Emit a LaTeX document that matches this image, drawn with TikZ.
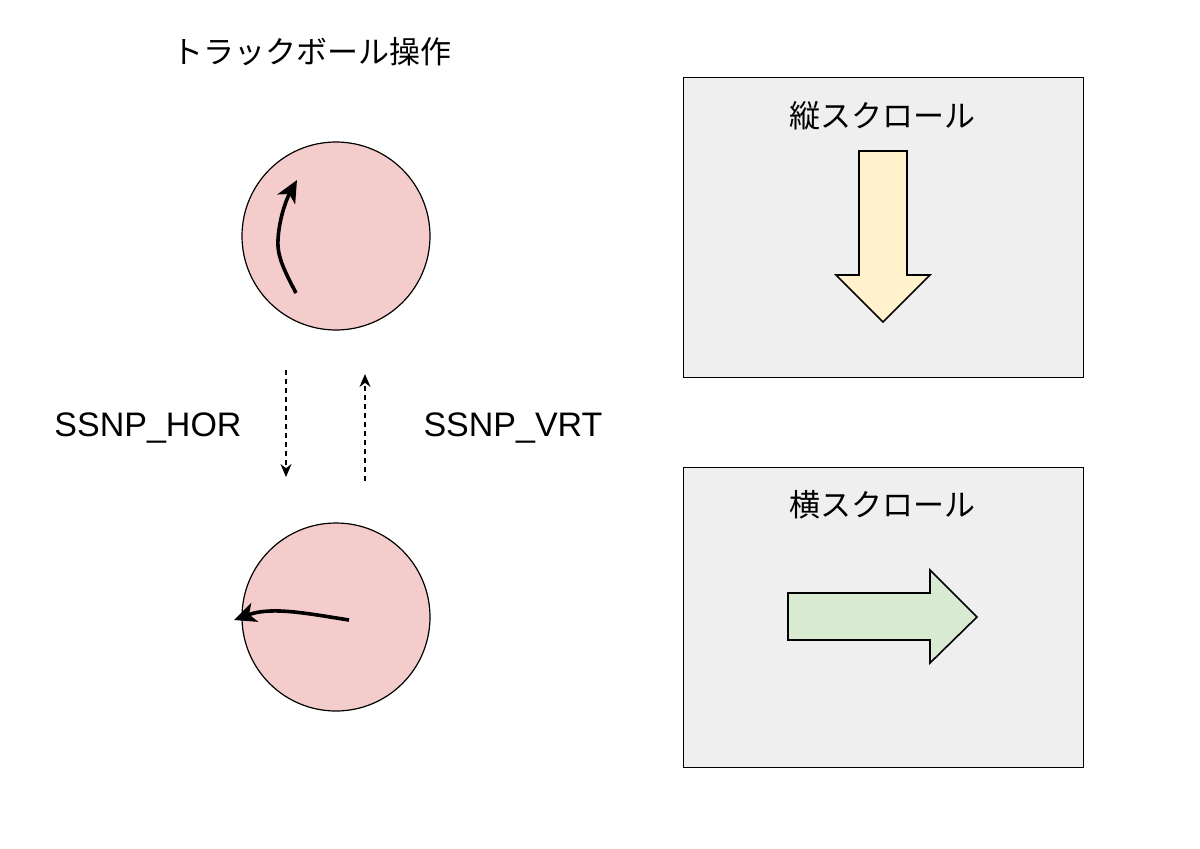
\documentclass[tikz,border=0pt]{standalone}
\usepackage{fontspec}
\setmainfont{Liberation Sans}
\newfontfamily\cjk{Noto Sans CJK JP}
\usetikzlibrary{arrows.meta}
\definecolor{boxgray}{HTML}{EFEFEF}
\definecolor{ballpink}{HTML}{F4CCCC}
\definecolor{arryellow}{HTML}{FFF2CC}
\definecolor{arrgreen}{HTML}{D9EAD3}
\tikzset{
  ball/.style={circle, draw=black, line width=1.2pt, fill=ballpink, minimum size=188pt, inner sep=0pt},
  panel/.style={draw=black, line width=1pt, fill=boxgray},
  bigarrow/.style={draw=black, line width=1.6pt, line join=miter},
  motion/.style={line width=3.6pt, -{Stealth[length=22pt,width=20pt,inset=6pt]}},
  signal/.style={line width=1.4pt, dash pattern=on 5pt off 4pt, -{Stealth[length=13pt,width=11pt]}},
  jplabel/.style={font=\cjk\fontsize{31}{36}\selectfont, inner sep=0pt},
  enlabel/.style={font=\fontsize{34}{39}\selectfont, inner sep=0pt}
}
\begin{document}
\begin{tikzpicture}[x=1pt,y=-1pt]
\useasboundingbox (0,0) rectangle (1200,849);
\fill[white] (0,0) rectangle (1200,849);
% title
\node[jplabel] (title) at (312,52) {トラックボール操作};
% balls
\node[ball] (ball1) at (336,236) {};
\node[ball] (ball2) at (336,617) {};
% motion arrows
\coordinate (m1s) at (296,293);
\coordinate (m1k) at (278,240);
\coordinate (m1e) at (297,180);
\draw[motion] (m1s) .. controls (284,270) and (277,256) .. (m1k) .. controls (279,218) and (287,198) .. (m1e);
\coordinate (m2s) at (349,620);
\coordinate (m2e) at (234,620);
\draw[motion] (m2s) .. controls (310,614) and (272,606) .. (m2e);
% signal arrows
\coordinate (horS) at (286,370);
\coordinate (horE) at (286,477);
\coordinate (vrtS) at (365,481);
\coordinate (vrtE) at (365,374);
\draw[signal] (horS) -- (horE);
\draw[signal] (vrtS) -- (vrtE);
\node[enlabel] (hor) at (148,428) {SSNP\_HOR};
\node[enlabel] (vrt) at (513,428) {SSNP\_VRT};
% panels
\draw[panel] (683,77) rectangle (1083,377);
\node[jplabel] (vlabel) at (882,116) {縦スクロール};
\draw[panel] (683,467) rectangle (1083,767);
\node[jplabel] (hlabel) at (882,505) {横スクロール};
% down arrow
\draw[bigarrow, fill=arryellow] (859,151) -- (907,151) -- (907,275) -- (930,275) -- (883,322) -- (836,275) -- (859,275) -- cycle;
% right arrow
\draw[bigarrow, fill=arrgreen] (788,593) -- (930,593) -- (930,570) -- (977,617) -- (930,663) -- (930,640) -- (788,640) -- cycle;
\end{tikzpicture}
\end{document}
